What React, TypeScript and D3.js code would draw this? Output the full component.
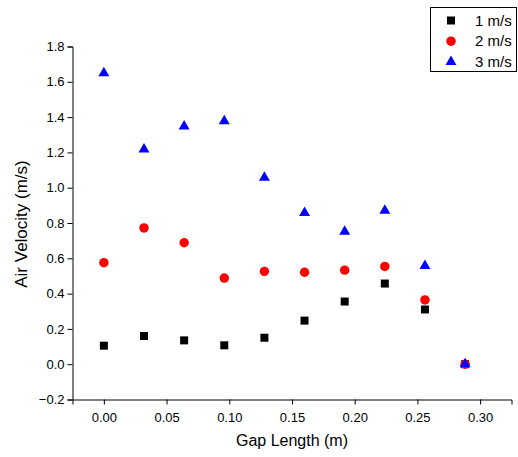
import { useEffect, useRef } from 'react';
import * as d3 from 'd3';

// gap lengths (m)
const gaps = [0, 0.032, 0.064, 0.096, 0.128, 0.16, 0.192, 0.224, 0.256, 0.288];
// air velocity for each inlet speed
const v1 = [0.105, 0.16, 0.135, 0.107, 0.15, 0.247, 0.355, 0.457, 0.31, 0.0];
const v2 = [0.575, 0.772, 0.688, 0.488, 0.526, 0.521, 0.533, 0.554, 0.364, 0.0];
const v3 = [1.65, 1.217, 1.348, 1.378, 1.057, 0.857, 0.752, 0.871, 0.557, 0.0];
const seriesNames = ['1 m/s', '2 m/s', '3 m/s'];
const xTicks = [0, 0.05, 0.1, 0.15, 0.2, 0.25, 0.3];
const yTicks = [-0.2, 0, 0.2, 0.4, 0.6, 0.8, 1.0, 1.2, 1.4, 1.6, 1.8];

const W = 518;
const H = 457;
const FONT = "'Liberation Sans', Arial, sans-serif";

const App = () => {
  const ref = useRef<SVGSVGElement>(null);

  useEffect(() => {
    const svg = d3.select(ref.current);
    svg.selectAll('*').remove();

    const left = 72.5, right = 511.5, top = 46.5, bottom = 399.5;

    const x = d3.scaleLinear().domain([-0.025, 0.325]).range([left, right]);
    const y = d3.scaleLinear().domain([-0.2, 1.8]).range([bottom, top]);

    // x axis, minor ticks first then the labelled ones
    const xAxis = svg.append('g').attr('transform', `translate(0,${bottom})`);
    xAxis.call(
      d3.axisBottom(x).tickValues(d3.range(-0.025, 0.3251, 0.025)).tickSize(3).tickFormat(() => '')
    );
    xAxis.call(d3.axisBottom(x).tickValues(xTicks).tickSize(5).tickFormat(d3.format('.2f')));
    xAxis.selectAll('text').attr('dy', 0).attr('y', 22).style('font-size', '13px');

    // y axis
    const yAxis = svg.append('g').attr('transform', `translate(${left},0)`);
    yAxis.call(
      d3.axisLeft(y).tickValues(d3.range(-0.2, 1.801, 0.1)).tickSize(3).tickFormat(() => '')
    );
    yAxis.call(d3.axisLeft(y).tickValues(yTicks).tickSize(5).tickFormat(d3.format('.1f')));
    yAxis.selectAll('text').attr('x', -8).style('font-size', '13px');

    svg.selectAll('.domain').attr('stroke', '#000');
    svg.selectAll('.tick line').attr('stroke', '#000');
    svg.selectAll('.tick text').attr('fill', '#000').style('font-family', FONT);

    // axis titles
    svg.append('text')
      .attr('x', (left + right) / 2)
      .attr('y', 446)
      .attr('text-anchor', 'middle')
      .style('font-family', FONT)
      .style('font-size', '16px')
      .text('Gap Length (m)');

    svg.append('text')
      .attr('transform', `translate(27,${(top + bottom) / 2 + 1}) rotate(-90)`)
      .attr('text-anchor', 'middle')
      .style('font-family', FONT)
      .style('font-size', '17px')
      .text('Air Velocity (m/s)');

    const square = d3.symbol().type(d3.symbolSquare).size(64);
    const circle = d3.symbol().type(d3.symbolCircle).size(70);
    const triangle = d3.symbol().type(d3.symbolTriangle).size(52);

    const series = [
      { vals: v1, sym: square, color: '#000000' },
      { vals: v2, sym: circle, color: '#ff0000' },
      { vals: v3, sym: triangle, color: '#0000ff' },
    ];

    series.forEach(s => {
      svg.append('g')
        .selectAll('path')
        .data(gaps)
        .enter().append('path')
        .attr('d', s.sym)
        .attr('transform', (d, i) => `translate(${x(d)},${y(s.vals[i])})`)
        .attr('fill', s.color);
    });

    // legend
    const lg = svg.append('g');
    lg.append('rect')
      .attr('x', 430.5).attr('y', 7.5).attr('width', 86).attr('height', 64)
      .attr('fill', '#fff').attr('stroke', '#000');
    series.forEach((s, i) => {
      const cy = 20.5 + i * 20.7;
      lg.append('path')
        .attr('d', s.sym)
        .attr('transform', `translate(451,${cy})`)
        .attr('fill', s.color);
      lg.append('text')
        .attr('x', 475)
        .attr('y', cy)
        .attr('dy', '0.35em')
        .style('font-family', FONT)
        .style('font-size', '15px')
        .text(seriesNames[i]);
    });
  }, []);

  return (
    <svg
      ref={ref}
      width={W}
      height={H}
      style={{ position: 'absolute', left: 0, top: 0, background: '#fff' }}
    />
  );
};

export default App;
